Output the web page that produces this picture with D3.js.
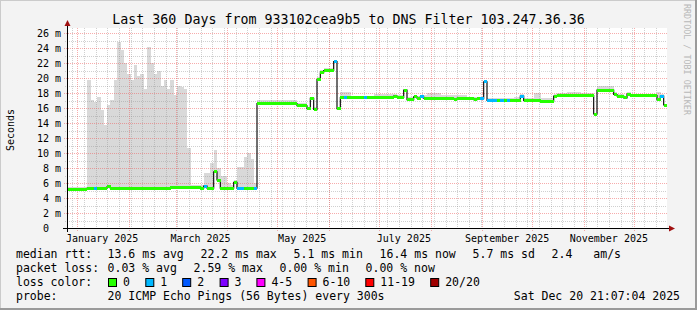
<!DOCTYPE html>
<html>
<head>
<meta charset="utf-8">
<script src="https://cdn.jsdelivr.net/npm/d3@7"></script>
<style>
  html, body { margin: 0; padding: 0; background: #f3f3f3; }
  svg { display: block; }
  text { font-family: "DejaVu Sans Mono", monospace; fill: #000; }
</style>
</head>
<body>
<div id="vis"></div>
<script>
// ---- data (2-day bins, 180 bins = 360 days) ----
const medianMs = [
  5.1, 5.1, 5.1, 5.1, 5.1, 5.2, 5.3, 5.3, 5.3, 5.3,
  5.3, 5.3, 5.5, 5.3, 5.3, 5.3, 5.3, 5.3, 5.3, 5.3,
  5.3, 5.3, 5.3, 5.3, 5.3, 5.3, 5.3, 5.3, 5.3, 5.3,
  5.3, 5.4, 5.4, 5.4, 5.4, 5.4, 5.4, 5.4, 5.4, 5.4,
  5.3, 5.6, 5.3, 5.3, 7.5, 6.4, 5.3, 5.3, 5.3, 5.3,
  6.1, 5.3, 5.3, 5.3, 5.3, 5.3, 5.3, 16.6, 16.6, 16.6,
  16.6, 16.6, 16.6, 16.6, 16.6, 16.6, 16.6, 16.6, 16.6, 16.3,
  16.3, 16.3, 15.9, 17.3, 15.8, 19.8, 20.7, 21.0, 21.0, 21.0,
  22.2, 15.9, 17.4, 17.4, 17.4, 17.4, 17.4, 17.4, 17.4, 17.4,
  17.4, 17.4, 17.4, 17.4, 17.4, 17.4, 17.4, 17.4, 17.6, 17.4,
  17.4, 18.4, 17.1, 17.1, 17.5, 17.3, 17.5, 17.3, 17.3, 17.3,
  17.3, 17.3, 17.3, 17.3, 17.3, 17.3, 17.2, 17.3, 17.3, 17.3,
  17.3, 17.3, 17.1, 17.25, 17.25, 19.5, 17.0, 17.0, 16.95, 16.95,
  16.95, 16.95, 16.95, 16.95, 16.95, 17.0, 17.6, 17.0, 17.0, 17.0,
  17.0, 17.0, 16.9, 16.9, 16.9, 16.9, 17.6, 17.65, 17.65, 17.65,
  17.65, 17.65, 17.65, 17.65, 17.65, 17.65, 17.65, 17.65, 15.2, 18.4,
  18.4, 18.4, 18.4, 18.4, 17.8, 17.6, 17.6, 17.35, 17.85, 17.65,
  17.65, 17.65, 17.65, 17.65, 17.65, 17.65, 17.65, 17.1, 17.6, 16.4
];

const smokeTopMs = [
  5.5, 5.5, 5.5, 5.5, 5.5, 5.5, 19.7, 17.1, 16.8, 17.5,
  15.7, 13.7, 16.4, 17.1, 19.7, 24.8, 23.7, 22.0, 20.6, 19.7,
  21.7, 20.3, 20.6, 18.6, 24.2, 22.0, 20.6, 21.0, 19.0, 19.7,
  18.5, 19.7, 17.8, 19.0, 18.8, 18.6, 10.7, 5.8, 5.8, 5.8,
  5.8, 7.3, 7.3, 8.7, 10.4, 8.0, 7.0, 6.9, 6.0, 5.8,
  6.4, 8.2, 8.2, 9.5, 10.0, 9.2, 6.0, 17.1, 17.1, 17.1,
  17.1, 17.1, 17.1, 17.1, 17.1, 17.1, 17.1, 17.1, 17.1, 16.7,
  16.7, 16.7, 16.2, 17.5, 16.1, 20.1, 21.1, 21.4, 21.4, 21.3,
  22.4, 16.0, 18.1, 18.1, 18.1, 17.6, 17.6, 17.6, 17.6, 17.6,
  17.6, 17.6, 17.9, 17.9, 17.9, 17.9, 17.9, 17.9, 17.9, 17.7,
  17.7, 18.6, 17.5, 17.5, 17.8, 17.6, 17.8, 17.7, 18.0, 18.0,
  18.0, 18.0, 17.7, 17.7, 17.7, 17.7, 17.8, 17.8, 17.8, 17.8,
  17.5, 17.5, 17.5, 17.5, 17.5, 19.6, 17.3, 17.3, 17.4, 17.4,
  17.4, 17.4, 17.4, 17.4, 17.5, 17.5, 17.9, 17.4, 17.4, 17.4,
  18.0, 18.0, 17.4, 17.4, 17.4, 17.4, 17.9, 18.0, 18.0, 18.0,
  18.2, 18.2, 18.2, 18.2, 18.0, 18.0, 18.0, 18.0, 15.4, 19.0,
  19.0, 19.0, 19.0, 19.0, 18.1, 17.9, 17.9, 17.6, 18.1, 17.9,
  17.9, 17.9, 17.9, 17.9, 17.9, 17.9, 17.9, 18.2, 17.9, 16.6
];

// loss class index per bin (0 = 0 lost, 1 = 1 lost, ...)
const lossClass = [
  0,0,0,0,0,0,0,0,1,0, 0,0,0,0,0,0,0,0,0,0,
  0,0,0,0,0,0,0,0,0,0, 0,0,0,0,0,0,0,0,0,0,
  0,1,0,0,0,0,0,0,0,0, 0,1,1,0,0,0,1,0,0,0,
  0,0,0,0,0,0,0,0,0,0, 0,0,0,0,0,0,0,0,0,0,
  1,0,0,1,0,0,0,0,0,1, 0,0,0,0,0,0,0,0,0,0,
  0,0,0,0,0,0,1,0,0,0, 0,0,0,0,0,0,0,0,0,0,
  0,0,0,0,1,1,1,1,1,0, 1,0,1,0,0,0,1,0,0,0,
  0,0,0,0,0,0,0,0,0,0, 0,0,0,0,0,0,0,0,0,0,
  0,0,0,0,0,0,0,0,0,0, 0,0,0,0,0,0,0,0,1,0
];

const lossLabels = ["0", "1", "2", "3", "4-5", "6-10", "11-19", "20/20"];
const lossColors = ["#26ff00", "#00b8ff", "#0059ff", "#7e00ff", "#ff00ff", "#ff5500", "#ff0000", "#a00000"];

const yMajorTicks = [0, 2, 4, 6, 8, 10, 12, 14, 16, 18, 20, 22, 24, 26];
const yMinorTicks = [1, 3, 5, 7, 9, 11, 13, 15, 17, 19, 21, 23, 25];

const monthLabels = ["January 2025", "March 2025", "May 2025", "July 2025", "September 2025", "November 2025"];
const monthLabelDates = ["2025-01-16", "2025-03-16", "2025-05-16", "2025-07-16", "2025-09-16", "2025-11-16"];

const legendRtt = [["median rtt:", 16], ["13.6 ms avg", 107.6], ["22.2 ms max", 200.6], ["5.1 ms min", 293.6],
  ["16.4 ms now", 379.6], ["5.7 ms sd", 472.6], ["2.4", 551.6], ["am/s", 593.3]];
const legendLoss = [["packet loss:", 16], ["0.03 % avg", 107.6], ["2.59 % max", 193.6], ["0.00 % min", 279.6], ["0.00 % now", 365.6]];
const swatchX = [108, 145.3, 182.2, 219.6, 256.4, 307.6, 365.3, 430.2];

// ---- layout ----
const W = 697, H = 310;
const plot = { left: 67, right: 667, top: 28, bottom: 228 };
const DAY = 86400000;
const END = Date.UTC(2025, 11, 20, 21, 7, 4);
const START = END - 360 * DAY;
const BIN_DAYS = 2;

const x = d3.scaleUtc().domain([START, END]).range([plot.left, plot.right]);
const y = d3.scaleLinear().domain([0, 200 / 7.5]).range([plot.bottom, plot.top]);

const svg = d3.select("#vis").append("svg")
  .attr("width", W).attr("height", H);

svg.append("rect").attr("width", W).attr("height", H).attr("fill", "#f3f3f3");

// frame
svg.append("path").attr("d", `M0,${H} V0 H${W}`).attr("fill", "none")
  .attr("stroke", "#cbcbcb").attr("stroke-width", 2);
svg.append("path").attr("d", `M0,${H - 1} H${W - 1} V0`).attr("fill", "none")
  .attr("stroke", "#9a9a9a").attr("stroke-width", 2);

// canvas
svg.append("rect")
  .attr("x", plot.left).attr("y", plot.top)
  .attr("width", plot.right - plot.left).attr("height", plot.bottom - plot.top)
  .attr("fill", "#fff");

const bins = medianMs.map((m, i) => ({
  t0: START + i * BIN_DAYS * DAY,
  t1: START + (i + 1) * BIN_DAYS * DAY,
  med: m,
  top: smokeTopMs[i],
  loss: lossClass[i]
}));

// smoke
svg.append("g").attr("shape-rendering", "crispEdges")
  .selectAll("rect").data(bins).join("rect")
  .attr("x", d => x(d.t0))
  .attr("width", d => x(d.t1) - x(d.t0) + 0.3)
  .attr("y", d => y(d.top))
  .attr("height", d => Math.max(0, y(d.med) - y(d.top)))
  .attr("fill", "#d9d9d9");

// grid
const grid = svg.append("g").attr("shape-rendering", "crispEdges");
const weeks = d3.utcSunday.range(new Date(START), new Date(END));
const months = d3.utcMonth.range(new Date(START), new Date(END));

grid.selectAll(".wk").data(weeks).join("line")
  .attr("x1", d => Math.round(x(d)) + 0.5).attr("x2", d => Math.round(x(d)) + 0.5)
  .attr("y1", plot.top).attr("y2", plot.bottom + 2)
  .attr("stroke", "rgba(150,150,150,0.45)").attr("stroke-dasharray", "1,1");
grid.selectAll(".ym").data(yMinorTicks).join("line")
  .attr("x1", plot.left - 2).attr("x2", plot.right)
  .attr("y1", d => Math.round(y(d)) + 0.5).attr("y2", d => Math.round(y(d)) + 0.5)
  .attr("stroke", "rgba(150,150,150,0.45)").attr("stroke-dasharray", "1,1");
grid.selectAll(".mo").data(months).join("line")
  .attr("x1", d => Math.round(x(d)) + 0.5).attr("x2", d => Math.round(x(d)) + 0.5)
  .attr("y1", plot.top).attr("y2", plot.bottom + 3)
  .attr("stroke", "rgba(240,90,90,0.5)").attr("stroke-dasharray", "1,1");
grid.selectAll(".yM").data(yMajorTicks).join("line")
  .attr("x1", plot.left - 3).attr("x2", plot.right)
  .attr("y1", d => Math.round(y(d)) + 0.5).attr("y2", d => Math.round(y(d)) + 0.5)
  .attr("stroke", "rgba(240,90,90,0.5)").attr("stroke-dasharray", "1,1");

// median line (black, steps)
const linePts = bins.map(d => [x(d.t0), y(d.med)]);
linePts.push([x(END), y(medianMs[medianMs.length - 1])]);
svg.append("path")
  .attr("d", d3.line().curve(d3.curveStepAfter)(linePts))
  .attr("fill", "none").attr("stroke", "#111").attr("stroke-width", 1.2);

// loss-coloured median band
svg.append("g").attr("shape-rendering", "crispEdges")
  .selectAll("rect").data(bins).join("rect")
  .attr("x", d => x(d.t0))
  .attr("width", d => x(d.t1) - x(d.t0) + 0.3)
  .attr("y", d => y(d.med) - 1.5)
  .attr("height", 3)
  .attr("fill", d => lossColors[d.loss]);

// axes
svg.append("line").attr("x1", plot.left + 0.5).attr("x2", plot.left + 0.5)
  .attr("y1", plot.bottom + 4).attr("y2", plot.top - 4)
  .attr("stroke", "#000").attr("shape-rendering", "crispEdges");
svg.append("line").attr("x1", plot.left - 4).attr("x2", plot.right + 3)
  .attr("y1", plot.bottom + 0.5).attr("y2", plot.bottom + 0.5)
  .attr("stroke", "#000").attr("shape-rendering", "crispEdges");
svg.append("path")
  .attr("d", `M${plot.left - 2.5},${plot.top - 2} L${plot.left + 3.5},${plot.top - 2} L${plot.left + 0.5},${plot.top - 8} Z`)
  .attr("fill", "#a01010");
svg.append("path")
  .attr("d", `M${plot.right + 2},${plot.bottom - 2.5} L${plot.right + 2},${plot.bottom + 3.5} L${plot.right + 8},${plot.bottom + 0.5} Z`)
  .attr("fill", "#a01010");

// y labels
svg.append("g").selectAll("text").data(yMajorTicks).join("text")
  .attr("x", d => d === 0 ? 49 : 61)
  .attr("y", d => y(d) + 3.5)
  .attr("text-anchor", "end")
  .style("font-size", "10px")
  .text(d => d === 0 ? "0" : `${d} m`);

// x labels
svg.append("g").selectAll("text").data(monthLabels).join("text")
  .attr("x", (d, i) => x(new Date(monthLabelDates[i] + "T00:00:00Z")))
  .attr("y", 241.5)
  .attr("text-anchor", "middle")
  .style("font-size", "10px")
  .text(d => d);

// title
svg.append("text").attr("x", 348.5).attr("y", 23.5)
  .attr("text-anchor", "middle").style("font-size", "13.3px")
  .text("Last 360 Days from 933102cea9b5 to DNS Filter 103.247.36.36");

// vertical label
svg.append("text").attr("transform", "translate(14,130) rotate(-90)")
  .attr("text-anchor", "middle").style("font-size", "10px")
  .text("Seconds");

svg.append("text").attr("transform", "translate(684,4) rotate(90)")
  .style("font-size", "8.4px").style("fill", "#b8b8b8")
  .text("RRDTOOL / TOBI OETIKER");

// legend
const legend = svg.append("g").style("font-size", "11.5px");
legend.selectAll(".r1").data(legendRtt).join("text")
  .attr("x", d => d[1]).attr("y", 258.3).text(d => d[0]);
legend.selectAll(".r2").data(legendLoss).join("text")
  .attr("x", d => d[1]).attr("y", 272.3).text(d => d[0]);
legend.append("text").attr("x", 16).attr("y", 286.3).text("loss color:");
legend.selectAll("rect").data(lossColors).join("rect")
  .attr("x", (d, i) => swatchX[i] + 0.5).attr("y", 278.5)
  .attr("width", 8).attr("height", 8)
  .attr("fill", d => d).attr("stroke", "#000").attr("stroke-width", 1);
legend.selectAll(".lc").data(lossLabels).join("text")
  .attr("x", (d, i) => swatchX[i] + 15).attr("y", 286.3).text(d => d);
legend.append("text").attr("x", 16).attr("y", 300).text("probe:");
legend.append("text").attr("x", 107.6).attr("y", 300).text("20 ICMP Echo Pings (56 Bytes) every 300s");
legend.append("text").attr("x", 680).attr("y", 300).attr("text-anchor", "end").text("Sat Dec 20 21:07:04 2025");
</script>
</body>
</html>
